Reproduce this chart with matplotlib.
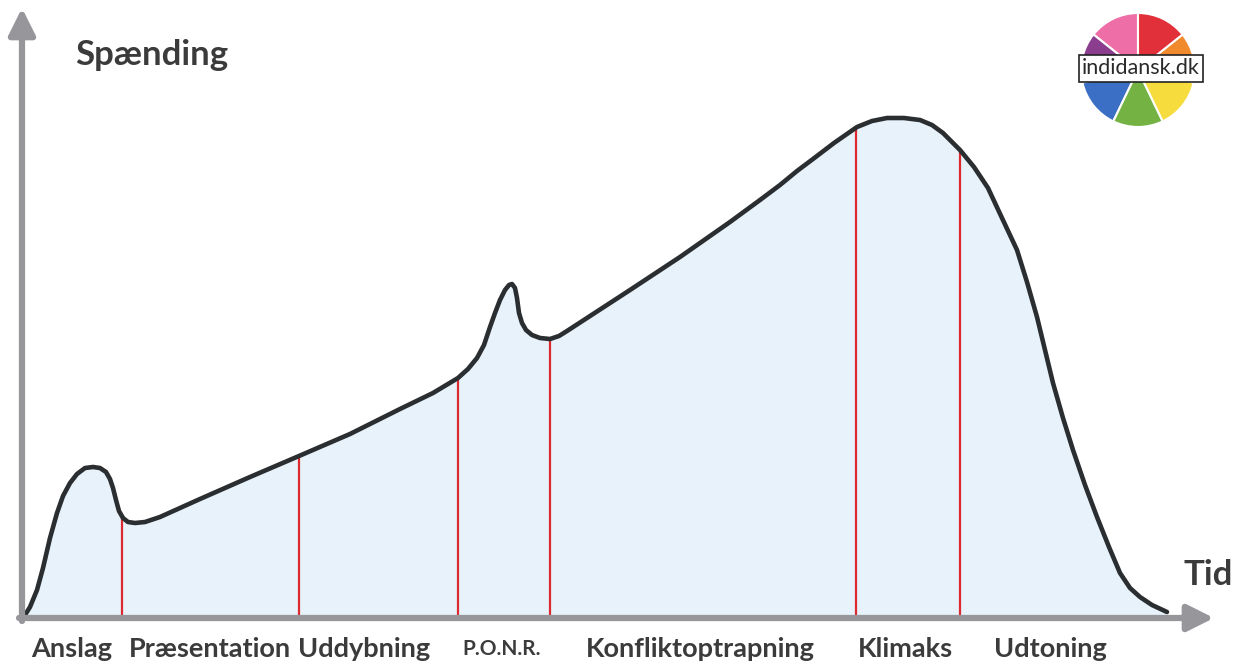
import numpy as np
import matplotlib
matplotlib.use("Agg")
import matplotlib.pyplot as plt

plt.rcParams['font.family'] = ['Lato', 'DejaVu Sans']

# Spændingskurve (tid, spænding)
tid = [3, 8, 15, 21, 28, 35, 41, 48, 55, 63, 71, 78, 84, 88, 91, 94, 97, 101, 106, 113,
       123, 138, 158, 178, 228, 277, 328, 378, 411, 436, 446, 455, 462, 468, 473, 478,
       483, 487, 490, 493, 495, 497, 500, 504, 510, 518, 528, 537, 545, 565, 608, 658,
       708, 738, 758, 775, 791, 812, 835, 850, 865, 882, 898, 910, 921, 938, 952, 966,
       980, 995, 1005, 1015, 1023, 1031, 1041, 1051, 1063, 1075, 1087, 1098, 1108,
       1118, 1130, 1145]
spaending = [3, 11, 28, 50, 80, 105, 122, 135, 144, 150, 151, 150, 146, 139, 130, 118,
             107, 100, 96, 95, 96, 101, 110, 119, 141, 162, 184, 209, 225, 240, 249, 260,
             273, 291, 305, 318, 328, 333, 334, 330, 320, 305, 295, 288, 283, 280, 279,
             282, 287, 300, 328, 361, 396, 418, 433, 447, 459, 475, 491, 497, 500, 500,
             498, 493, 485, 468, 451, 430, 400, 368, 336, 301, 268, 235, 200, 168, 133,
             101, 71, 45, 30, 21, 13, 6]

# Faseskift (røde linjer)
skift = [100, 277, 436, 528, 834, 938]

faser = ["Anslag", "Præsentation", "Uddybning", "P.O.N.R.", "Konfliktoptrapning",
         "Klimaks", "Udtoning"]
fase_x = [50, 188, 342, 480, 678, 883, 1028]

logo_farver = ["#ee6fa8", "#8b3d8e", "#3b6fc6", "#74b244", "#f6dc3c", "#f08a2d", "#e2303a"]

tekst = "#3b3b3b"
akse = "#97979b"

fig = plt.figure(figsize=(12.43, 6.63), dpi=100)
ax = fig.add_axes([0, 0, 1, 1])
ax.set_xlim(-22, 1221)
ax.set_ylim(-45, 618)
ax.axis("off")

ax.fill_between(tid, spaending, 0, color="#e7f2fb", lw=0)
top = np.interp(skift, tid, spaending)
ax.vlines(skift, 0, top, color="#dc2a30", lw=1.6)
ax.plot(tid, spaending, color="#2b2e30", lw=3.3, solid_capstyle="round", solid_joinstyle="round")

# akser med pile
ax.annotate("", xy=(0, 610), xytext=(0, -3),
            arrowprops=dict(arrowstyle="-|>,head_length=0.8,head_width=0.4", lw=4.5,
                            color=akse, mutation_scale=20, shrinkA=0, shrinkB=0))
ax.annotate("", xy=(1192, 0), xytext=(-3, 0),
            arrowprops=dict(arrowstyle="-|>,head_length=0.8,head_width=0.4", lw=4.5,
                            color=akse, mutation_scale=20, shrinkA=0, shrinkB=0))

ax.text(130, 563, "Spænding", fontsize=25, fontweight="bold", color=tekst, ha="center", va="center")
ax.text(1186, 43, "Tid", fontsize=25, fontweight="bold", color=tekst, ha="center", va="center")

for navn, x in zip(faser, fase_x):
    fs = 15 if navn == "P.O.N.R." else 19.5
    ax.text(x, -31, navn, fontsize=fs, fontweight="bold", color=tekst, ha="center", va="center")

# logo
lax = fig.add_axes([1081 / 1243, (663 - 127) / 663, 114 / 1243, 114 / 663])
lax.pie([1] * 7, colors=logo_farver, startangle=90, counterclock=True,
        wedgeprops=dict(edgecolor="white", linewidth=1.5))
lax.set_xlim(-1, 1)
lax.set_ylim(-1, 1)
lax.set_aspect("equal")
lax.text(0.05, 0.03, "indidansk.dk", fontsize=15.5, color="#2a2a2a", ha="center", va="center",
         bbox=dict(boxstyle="square,pad=0.15", fc="white", ec="#222222", lw=1.2))

fig.savefig("out.png", dpi=100)
